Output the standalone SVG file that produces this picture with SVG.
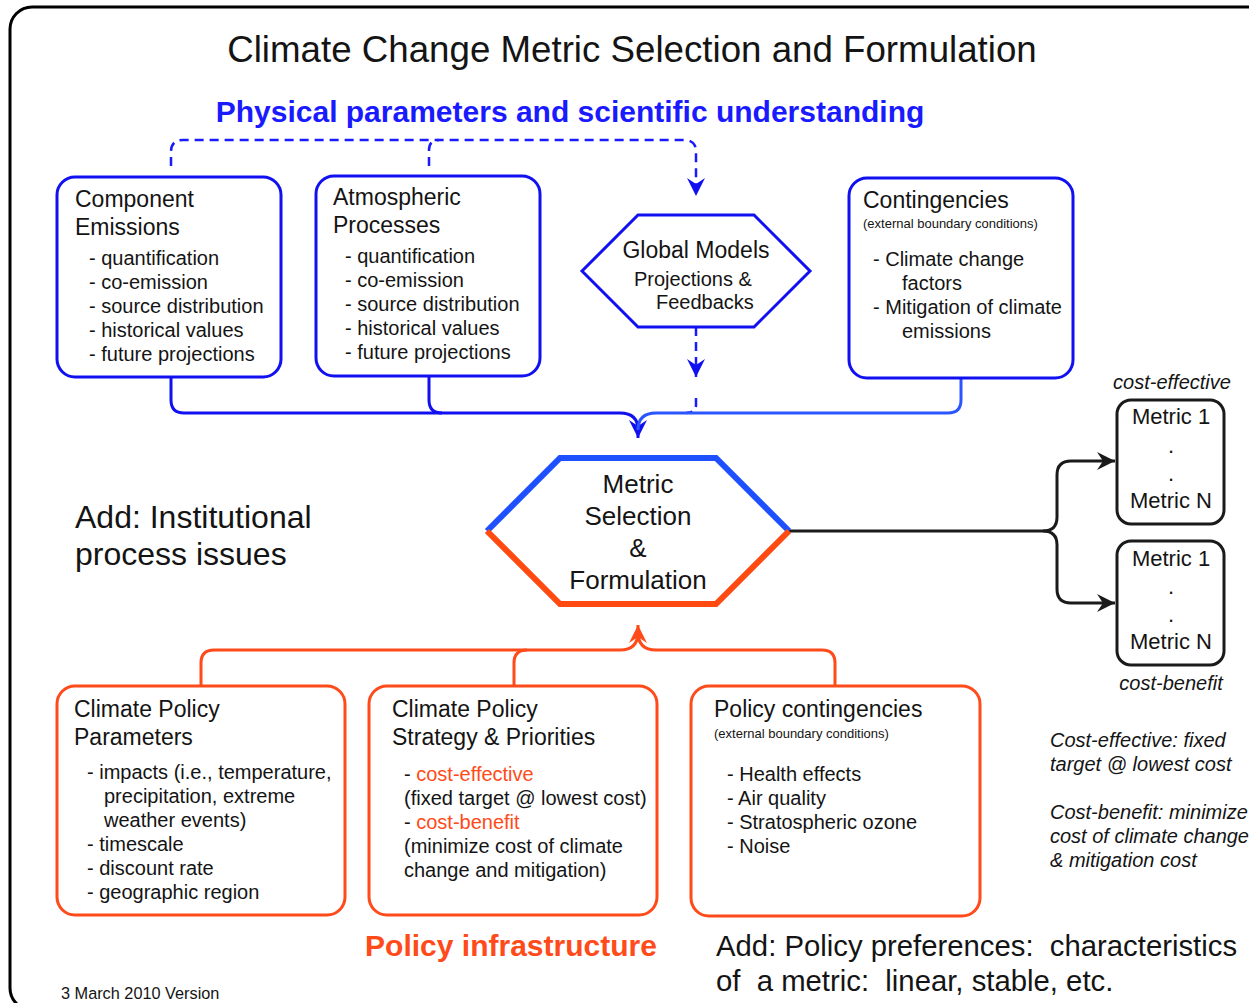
<svg xmlns="http://www.w3.org/2000/svg" width="1249" height="1003" viewBox="0 0 1249 1003">
  <defs>
    <style>
      .t { font-family: "Liberation Sans", Arial, sans-serif; fill: #141414; }
      .h { font-size: 23px; }
      .i { font-size: 20px; }
      .s { font-size: 13px; }
      .it { font-style: italic; font-size: 20px; }
      .boxB { fill: #fff; stroke: #1010f0; stroke-width: 3; }
      .boxO { fill: #fff; stroke: #ff4a1a; stroke-width: 3; }
      .boxK { fill: #fff; stroke: #1a1a1a; stroke-width: 3; }
      .cB { fill: none; stroke: #1010f0; stroke-width: 3; }
      .cB2 { fill: none; stroke: #2a55ff; stroke-width: 3; }
      .cD { fill: none; stroke: #1a1aff; stroke-width: 2.5; stroke-dasharray: 9 6; }
      .cO { fill: none; stroke: #ff4a1a; stroke-width: 3; }
      .cK { fill: none; stroke: #1a1a1a; stroke-width: 3; }
      .red { fill: #ff4a1a; }
    </style>
    <marker id="arB" markerUnits="userSpaceOnUse" markerWidth="20" markerHeight="18" refX="18" refY="9" orient="auto">
      <path d="M0,0 L18,9 L0,18 L6,9 z" fill="#1010f0"/>
    </marker>
    <marker id="arO" markerUnits="userSpaceOnUse" markerWidth="20" markerHeight="18" refX="18" refY="9" orient="auto">
      <path d="M0,0 L18,9 L0,18 L6,9 z" fill="#ff4a1a"/>
    </marker>
    <marker id="arK" markerUnits="userSpaceOnUse" markerWidth="20" markerHeight="18" refX="18" refY="9" orient="auto">
      <path d="M0,0 L18,9 L0,18 L6,9 z" fill="#1a1a1a"/>
    </marker>
  </defs>

  <rect width="1249" height="1003" fill="#fff"/>
  <!-- outer frame -->
  <rect x="10" y="7" width="1290" height="1003" rx="22" fill="none" stroke="#000" stroke-width="3"/>

  <!-- headings -->
  <text class="t" x="632" y="62" font-size="36.7" text-anchor="middle">Climate Change Metric Selection and Formulation</text>
  <text x="570" y="122" font-family="Liberation Sans, Arial, sans-serif" font-size="30" font-weight="bold" fill="#1a1aff" text-anchor="middle">Physical parameters and scientific understanding</text>

  <!-- connectors -->
  <g id="connectors">
    <!-- dashed feed from physical parameters into global models -->
    <path class="cD" d="M171,166 L171,152 Q171,140 183,140 L684,140 Q696,140 696,152 L696,196" marker-end="url(#arB)"/>
    <path class="cD" d="M429,166 L429,150 Q429,140 439,140"/>
    <path class="cD" d="M696,327 L696,377" marker-end="url(#arB)"/>
    <path class="cD" d="M696,398 L696,405 Q696,413 686,413"/>
    <!-- blue inputs into metric selection -->
    <path class="cB" d="M171,377 L171,400 Q171,413 184,413 L620,413 Q638,413 638,430 L638,438" marker-end="url(#arB)"/>
    <path class="cB" d="M429,376 L429,400 Q429,413 442,413"/>
    <path class="cB2" d="M961,378 L961,400 Q961,413 948,413 L656,413 Q638,413 638,430"/>
    <!-- orange inputs from policy boxes -->
    <path class="cO" d="M201,686 L201,663 Q201,650 214,650 L620,650 Q638,650 638,632 L638,625" marker-end="url(#arO)"/>
    <path class="cO" d="M514,686 L514,663 Q514,650 527,650"/>
    <path class="cO" d="M835,686 L835,663 Q835,650 822,650 L656,650 Q638,650 638,632"/>
    <!-- outputs to metric sets -->
    <path class="cK" d="M789,531 L1043,531 Q1057,531 1057,517 L1057,475 Q1057,461 1071,461 L1115,461" marker-end="url(#arK)"/>
    <path class="cK" d="M1043,531 Q1057,531 1057,545 L1057,589 Q1057,603 1071,603 L1115,603" marker-end="url(#arK)"/>
  </g>

  <!-- Component Emissions -->
  <g id="component-emissions">
    <rect class="boxB" x="57" y="177" width="224" height="200" rx="18"/>
    <text class="t h" x="75" y="207">Component</text>
    <text class="t h" x="75" y="235">Emissions</text>
    <text class="t i" x="89" y="265">- quantification</text>
    <text class="t i" x="89" y="289">- co-emission</text>
    <text class="t i" x="89" y="313">- source distribution</text>
    <text class="t i" x="89" y="337">- historical values</text>
    <text class="t i" x="89" y="361">- future projections</text>
  </g>

  <!-- Atmospheric Processes -->
  <g id="atmospheric-processes">
    <rect class="boxB" x="316" y="176" width="224" height="200" rx="18"/>
    <text class="t h" x="333" y="205">Atmospheric</text>
    <text class="t h" x="333" y="233">Processes</text>
    <text class="t i" x="345" y="263">- quantification</text>
    <text class="t i" x="345" y="287">- co-emission</text>
    <text class="t i" x="345" y="311">- source distribution</text>
    <text class="t i" x="345" y="335">- historical values</text>
    <text class="t i" x="345" y="359">- future projections</text>
  </g>

  <!-- Global Models -->
  <g id="global-models">
    <polygon class="boxB" points="582,271 638,215 754,215 810,271 754,327 638,327"/>
    <text class="t" x="696" y="258" font-size="23" text-anchor="middle">Global Models</text>
    <text class="t i" x="634" y="286">Projections &amp;</text>
    <text class="t i" x="656" y="309">Feedbacks</text>
  </g>

  <!-- Contingencies -->
  <g id="contingencies">
    <rect class="boxB" x="849" y="178" width="224" height="200" rx="18"/>
    <text class="t h" x="863" y="208">Contingencies</text>
    <text class="t s" x="863" y="228">(external boundary conditions)</text>
    <text class="t i" x="873" y="266">- Climate change</text>
    <text class="t i" x="902" y="290">factors</text>
    <text class="t i" x="873" y="314">- Mitigation of climate</text>
    <text class="t i" x="902" y="338">emissions</text>
  </g>

  <!-- Metric Selection & Formulation -->
  <g id="metric-selection">
    <polygon points="487,531 560,458 716,458 789,531 716,604 560,604" fill="#fff"/>
    <polyline points="487,531 560,458 716,458 789,531" fill="none" stroke="#1e50ff" stroke-width="6" stroke-linejoin="miter"/>
    <polyline points="487,531 560,604 716,604 789,531" fill="none" stroke="#ff4a12" stroke-width="6" stroke-linejoin="miter"/>
    <text class="t" x="638" y="493" font-size="26" text-anchor="middle">Metric</text>
    <text class="t" x="638" y="525" font-size="26" text-anchor="middle">Selection</text>
    <text class="t" x="638" y="557" font-size="26" text-anchor="middle">&amp;</text>
    <text class="t" x="638" y="589" font-size="26" text-anchor="middle">Formulation</text>
  </g>

  <text class="t" x="75" y="528" font-size="32">Add: Institutional</text>
  <text class="t" x="75" y="565" font-size="32">process issues</text>

  <!-- cost-effective metric set -->
  <g id="metrics-cost-effective">
    <text class="t it" x="1172" y="389" text-anchor="middle">cost-effective</text>
    <rect class="boxK" x="1117" y="400" width="107" height="124" rx="14"/>
    <text class="t" x="1171" y="424" font-size="22" text-anchor="middle">Metric 1</text>
    <text class="t" x="1171" y="453" font-size="22" text-anchor="middle">.</text>
    <text class="t" x="1171" y="481" font-size="22" text-anchor="middle">.</text>
    <text class="t" x="1171" y="508" font-size="22" text-anchor="middle">Metric N</text>
  </g>

  <!-- cost-benefit metric set -->
  <g id="metrics-cost-benefit">
    <rect class="boxK" x="1117" y="541" width="107" height="124" rx="14"/>
    <text class="t" x="1171" y="566" font-size="22" text-anchor="middle">Metric 1</text>
    <text class="t" x="1171" y="594" font-size="22" text-anchor="middle">.</text>
    <text class="t" x="1171" y="622" font-size="22" text-anchor="middle">.</text>
    <text class="t" x="1171" y="649" font-size="22" text-anchor="middle">Metric N</text>
    <text class="t it" x="1171" y="690" text-anchor="middle">cost-benefit</text>
  </g>

  <!-- Climate Policy Parameters -->
  <g id="policy-parameters">
    <rect class="boxO" x="57" y="686" width="288" height="229" rx="18"/>
    <text class="t h" x="74" y="717">Climate Policy</text>
    <text class="t h" x="74" y="745">Parameters</text>
    <text class="t i" x="87" y="779">- impacts (i.e., temperature,</text>
    <text class="t i" x="104" y="803">precipitation, extreme</text>
    <text class="t i" x="104" y="827">weather events)</text>
    <text class="t i" x="87" y="851">- timescale</text>
    <text class="t i" x="87" y="875">- discount rate</text>
    <text class="t i" x="87" y="899">- geographic region</text>
  </g>

  <!-- Climate Policy Strategy & Priorities -->
  <g id="policy-strategy">
    <rect class="boxO" x="369" y="686" width="288" height="229" rx="18"/>
    <text class="t h" x="392" y="717">Climate Policy</text>
    <text class="t h" x="392" y="745">Strategy &amp; Priorities</text>
    <text class="t i" x="404" y="781">- <tspan class="red">cost-effective</tspan></text>
    <text class="t i" x="404" y="805">(fixed target @ lowest cost)</text>
    <text class="t i" x="404" y="829">- <tspan class="red">cost-benefit</tspan></text>
    <text class="t i" x="404" y="853">(minimize cost of climate</text>
    <text class="t i" x="404" y="877">change and mitigation)</text>
  </g>

  <!-- Policy contingencies -->
  <g id="policy-contingencies">
    <rect class="boxO" x="691" y="686" width="289" height="230" rx="18"/>
    <text class="t h" x="714" y="717">Policy contingencies</text>
    <text class="t s" x="714" y="738">(external boundary conditions)</text>
    <text class="t i" x="727" y="781">- Health effects</text>
    <text class="t i" x="727" y="805">- Air quality</text>
    <text class="t i" x="727" y="829">- Stratospheric ozone</text>
    <text class="t i" x="727" y="853">- Noise</text>
  </g>

  <!-- definitions -->
  <text class="t it" x="1050" y="747">Cost-effective: fixed</text>
  <text class="t it" x="1050" y="771">target @ lowest cost</text>
  <text class="t it" x="1050" y="819">Cost-benefit: minimize</text>
  <text class="t it" x="1050" y="843">cost of climate change</text>
  <text class="t it" x="1050" y="867">&amp; mitigation cost</text>

  <text x="511" y="956" font-family="Liberation Sans, Arial, sans-serif" font-size="30" font-weight="bold" fill="#ff4a1a" text-anchor="middle">Policy infrastructure</text>
  <text class="t" x="716" y="956" font-size="29.3" xml:space="preserve">Add: Policy preferences:  characteristics</text>
  <text class="t" x="716" y="991" font-size="29.3" xml:space="preserve">of  a metric:  linear, stable, etc.</text>
  <text class="t" x="61" y="999" font-size="16.3">3 March 2010 Version</text>
</svg>
